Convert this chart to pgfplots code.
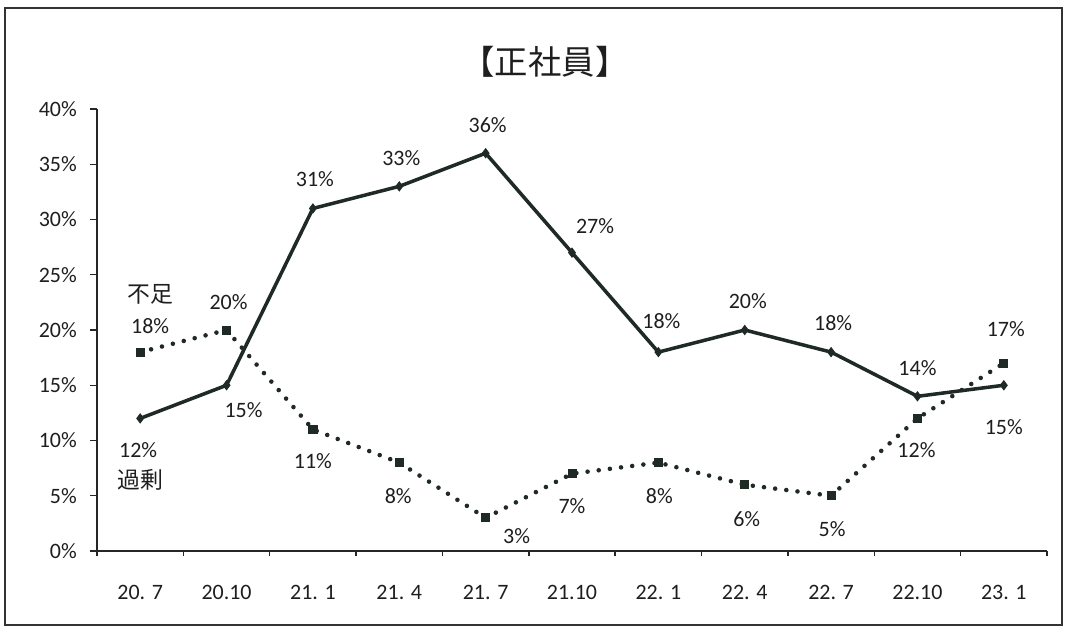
\documentclass[border=0pt]{standalone}
\usepackage{pgfplots}
\usepackage{pgfplotstable}
\pgfplotsset{compat=1.18}
\usepackage{fontspec}
\setmainfont{Carlito}
\newfontfamily\jp{Noto Sans CJK JP}
\definecolor{ln}{RGB}{32,42,37}
\definecolor{tx}{RGB}{30,30,30}

\pgfplotstableread{
x y dx dy
0 12 -2 -32
1 15 17 -25
2 31 2 29
3 33 2 28
4 36 2 28
5 27 23 27
6 18 3 31
7 20 3 29
8 18 2 29
9 14 0 28
10 15 0 -42
}\kajo

\pgfplotstableread{
x y dx dy
0 18 10 26
1 20 2 28
2 11 0 -32
3 8 -1 -33
4 3 31 -18
5 7 0 -32
6 8 1 -33
7 6 2 -34
8 5 1 -33
9 12 -1 -32
10 17 2 34
}\fusoku

\begin{document}
\begin{tikzpicture}
\path[use as bounding box] (0,0) rectangle (21.34,12.66);
\draw[line width=1pt, black!80] (0.1,0.16) rectangle (21.24,12.50);
\node[font=\jp\fontsize{19}{22}\selectfont, text=tx] at (10.9,11.42) {【正社員】};
\begin{axis}[
  at={(1.94cm,1.64cm)}, anchor=south west,
  scale only axis, width=19cm, height=8.84cm,
  xmin=-0.5, xmax=10.5, ymin=0, ymax=40,
  axis lines*=left,
  axis line style={line width=1pt, black!85, -},
  xtick={0,...,10},
  xticklabels={{20. 7},{20.10},{21. 1},{21. 4},{21. 7},{21.10},{22. 1},{22. 4},{22. 7},{22.10},{23. 1}},
  major x tick style={draw=none},
  minor xtick={-0.5,0.5,...,10.5},
  minor x tick style={draw=black!85, line width=0.8pt},
  minor tick length=0.1cm,
  major tick length=0.14cm,
  ytick={0,5,...,40},
  y tick style={draw=black!85, line width=0.8pt},
  yticklabel={\pgfmathprintnumber{\tick}\%},
  /pgf/number format/assume math mode=true,
  tick align=outside,
  tick label style={font=\fontsize{12.5}{14}\selectfont, text=tx},
  yticklabel style={xshift=-0.14cm},
  xticklabel style={yshift=-0.43cm},
  clip=false,
  point meta=y,
  nodes near coords={\pgfmathprintnumber{\pgfplotspointmeta}\%},
  visualization depends on={\thisrow{dx} \as \dx},
  visualization depends on={\thisrow{dy} \as \dy},
  every node near coord/.append style={anchor=center, xshift=\dx*0.02cm, yshift=\dy*0.02cm, font=\fontsize{12.5}{14}\selectfont, text=tx},
]
\addplot[ln, line width=2pt, mark=diamond*, mark size=2.6pt, mark options={solid, fill=ln, line width=0.5pt}] table[x=x,y=y] {\kajo};
\addplot[ln, line width=2.6pt, line cap=round, dash pattern=on 0pt off 6.4pt, mark=square*, mark size=2.3pt, mark options={solid, fill=ln, line width=0.5pt}] table[x=x,y=y] {\fusoku};
\node[font=\jp\fontsize{13}{15}\selectfont, text=tx] at (axis cs:0.12,23.2) {不足};
\node[font=\jp\fontsize{13}{15}\selectfont, text=tx] at (axis cs:0,6.4) {過剰};
\end{axis}
\end{tikzpicture}
\end{document}
